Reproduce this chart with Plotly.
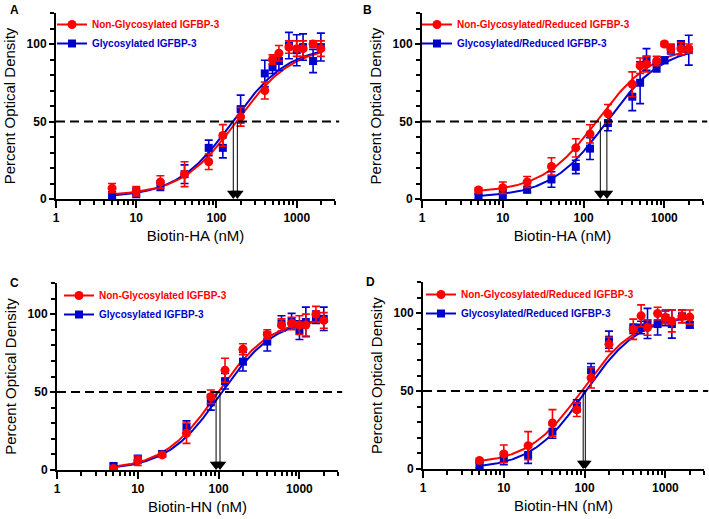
import numpy as np
import plotly.graph_objects as go

# ---------------- data ----------------
conc = [5, 10, 20, 40, 80, 120, 200, 400, 500, 600, 800, 1000, 1200, 1600, 2000]
conc_c = [5, 10, 20, 40, 80, 120, 200, 400, 600, 800, 1000, 1200, 1600, 2000]

a_red = [7, 5, 11, 16, 24, 41, 53, 70, 90, 94, 98, 97, 97, 100, 97]
a_red_err = [3, 3, 4, 8, 5, 7, 6, 5.5, 3, 5, 4, 5, 5, 2, 5]
a_blue = [2.5, 4, 8.5, 16, 33, 33, 58, 81, 85, 89, 99, 96, 98, 89, 98]
a_blue_err = [2, 3, 3, 6, 5, 6.5, 9, 8.5, 4, 6, 8.5, 10, 8.5, 7.5, 9]

b_red = [5.8, 7.3, 11, 21, 33, 42, 55, 74, 86, 87, 89, 100, 97, 97, 97]
b_red_err = [1.5, 3.7, 3.5, 5.6, 5.9, 5.9, 6, 8, 5, 5, 3, 1.5, 3, 4, 3]
b_blue = [1.5, 3.2, 6, 12.6, 20.7, 32.5, 49, 66, 75, 90, 85, 89.5, 96.5, 100, 96]
b_blue_err = [1.5, 3, 2, 5, 4.3, 7, 5, 9, 13.5, 7, 3, 2, 3, 2, 9.6]

c_red = [1, 6, 9.7, 23.6, 47, 64, 77.5, 87, 93, 94, 93, 93, 100, 96]
c_red_err = [1, 3, 1.5, 6.5, 4.3, 7.7, 3.5, 3, 4, 4, 6, 7, 5, 5]
c_blue = [2.6, 7, 10.3, 27.5, 43.4, 57, 69.5, 82.4, 94, 95.5, 89.7, 95, 98, 97]
c_blue_err = [1.5, 2.5, 1.5, 4, 5, 5, 6, 6, 5, 5, 6, 9.5, 4, 7.5]

d_red = [5.4, 9.7, 15, 29.5, 38, 58.5, 80, 89.7, 98.3, 90.8, 99.8, 97.2, 95, 97.8, 97.5]
d_red_err = [1.5, 5.7, 9, 8.6, 4.3, 6.5, 4.5, 6.5, 7, 5, 4, 4, 7, 4, 4.5]
d_blue = [2.4, 6.7, 9, 24, 40.6, 63.4, 83, 90, 90.8, 93.4, 93, 97, 93, 98, 92.5]
d_blue_err = [1.5, 4, 5.4, 4.3, 3.8, 4.3, 5.5, 3, 4, 9.7, 7, 5, 9, 4, 2]

# four-parameter logistic fit parameters [bottom, top, EC50, hill]
a_red_fit = [2, 99, 180, 1.25]
a_blue_fit = [1, 99, 160, 1.25]
b_red_fit = [4, 99, 152, 1.25]
b_blue_fit = [1, 99, 194, 1.25]
c_red_fit = [0, 98, 96, 1.3]
c_blue_fit = [0, 98, 107, 1.3]
d_red_fit = [3, 99, 94, 1.3]
d_blue_fit = [0, 99, 102, 1.3]

# half-maximal concentrations marked by arrows
a_arrows = [162, 182]
b_arrows = [161, 194]
c_arrows = [93, 104]
d_arrows = [96, 102]

names_plain = ["Non-Glycosylated IGFBP-3", "Glycosylated IGFBP-3"]
names_red = ["Non-Glycosylated/Reduced IGFBP-3", "Glycosylated/Reduced IGFBP-3"]
x_titles = ["Biotin-HA (nM)", "Biotin-HA (nM)", "Biotin-HN (nM)", "Biotin-HN (nM)"]
panel_letters = ["A", "B", "C", "D"]
y_ticks = [0, 50, 100]
x_ticks = [1, 10, 100, 1000]

# ---------------- layout geometry (pixels) ----------------
W, H = 709, 519
RED = "rgb(255,0,0)"
BLUE = "rgb(0,0,205)"
FONT = "Arial, 'Liberation Sans', sans-serif"

panels = [
    dict(x=conc, red=a_red, red_err=a_red_err, blue=a_blue, blue_err=a_blue_err,
         rfit=a_red_fit, bfit=a_blue_fit, arrows=a_arrows, names=names_plain,
         px=(56, 335), py=(13, 199), leg=(52, 10), lab=(8, 1)),
    dict(x=conc, red=b_red, red_err=b_red_err, blue=b_blue, blue_err=b_blue_err,
         rfit=b_red_fit, bfit=b_blue_fit, arrows=b_arrows, names=names_red,
         px=(422, 703), py=(13, 199), leg=(417, 10), lab=(361, 1)),
    dict(x=conc_c, red=c_red, red_err=c_red_err, blue=c_blue, blue_err=c_blue_err,
         rfit=c_red_fit, bfit=c_blue_fit, arrows=c_arrows, names=names_plain,
         px=(57, 338), py=(283, 470), leg=(59, 281), lab=(8, 274)),
    dict(x=conc, red=d_red, red_err=d_red_err, blue=d_blue, blue_err=d_blue_err,
         rfit=d_red_fit, bfit=d_blue_fit, arrows=d_arrows, names=names_red,
         px=(423, 704), py=(282, 469), leg=(421, 280), lab=(364, 273)),
]

fig = go.Figure()
annotations = []
shapes = []

def logistic(x, p):
    b, t, ec, h = p
    return b + (t - b) / (1 + (ec / x) ** h)

TRI = 11
for i, P in enumerate(panels):
    k = "" if i == 0 else str(i + 1)
    xa, ya = "x" + k, "y" + k
    leg = "legend" + k
    ppu = (P["py"][1] - P["py"][0]) / 120.0

    xf = np.logspace(np.log10(min(P["x"])), np.log10(max(P["x"])), 200)
    # fitted curves
    fig.add_trace(go.Scatter(x=xf, y=logistic(xf, P["bfit"]), mode="lines",
                             line=dict(color=BLUE, width=2), xaxis=xa, yaxis=ya,
                             showlegend=False, hoverinfo="skip"))
    fig.add_trace(go.Scatter(x=xf, y=logistic(xf, P["rfit"]), mode="lines",
                             line=dict(color=RED, width=2), xaxis=xa, yaxis=ya,
                             showlegend=False, hoverinfo="skip"))
    # data points
    fig.add_trace(go.Scatter(x=P["x"], y=P["blue"], mode="markers",
                             marker=dict(symbol="square", size=8, color=BLUE),
                             error_y=dict(type="data", array=P["blue_err"], color=BLUE,
                                          thickness=1.6, width=4),
                             xaxis=xa, yaxis=ya, showlegend=False))
    fig.add_trace(go.Scatter(x=P["x"], y=P["red"], mode="markers",
                             marker=dict(symbol="circle", size=9, color=RED),
                             error_y=dict(type="data", array=P["red_err"], color=RED,
                                          thickness=1.6, width=4),
                             xaxis=xa, yaxis=ya, showlegend=False))
    # arrows
    for a in P["arrows"]:
        fig.add_trace(go.Scatter(x=[a, a], y=[50, TRI / 2 / ppu], mode="lines",
                                 line=dict(color="black", width=1), xaxis=xa, yaxis=ya,
                                 showlegend=False, hoverinfo="skip"))
        fig.add_trace(go.Scatter(x=[a], y=[TRI / 2 / ppu], mode="markers",
                                 marker=dict(symbol="triangle-down", size=TRI, color="black"),
                                 xaxis=xa, yaxis=ya, showlegend=False, hoverinfo="skip"))
    # legend entries
    fig.add_trace(go.Scatter(x=[None], y=[None], mode="lines+markers",
                             name="<b><span style='color:%s'>%s</span></b>" % (RED, P["names"][0]),
                             line=dict(color=RED, width=2),
                             marker=dict(symbol="circle", size=9, color=RED),
                             xaxis=xa, yaxis=ya, legend=leg))
    fig.add_trace(go.Scatter(x=[None], y=[None], mode="lines+markers",
                             name="<b><span style='color:%s'>%s</span></b>" % (BLUE, P["names"][1]),
                             line=dict(color=BLUE, width=2),
                             marker=dict(symbol="square", size=8, color=BLUE),
                             xaxis=xa, yaxis=ya, legend=leg))

    xdom = [P["px"][0] / W, P["px"][1] / W]
    ydom = [1 - P["py"][1] / H, 1 - P["py"][0] / H]
    xaxis = dict(type="log", domain=xdom, range=[0, np.log10(3000)], anchor=ya,
                 automargin=False,
                 showline=True, linecolor="black", linewidth=2, showgrid=False,
                 zeroline=False, ticks="outside", ticklen=7, tickwidth=2, tickcolor="black",
                 tickvals=x_ticks, ticktext=[str(v) for v in x_ticks],
                 tickfont=dict(family=FONT, size=12, color="black", weight="bold"),
                 minor=dict(ticks="outside", ticklen=4, tickwidth=1.5, tickcolor="black",
                            dtick="D1", showgrid=False),
                 title=dict(text=x_titles[i], font=dict(family=FONT, size=15, color="black"),
                            standoff=6))
    yaxis = dict(domain=ydom, range=[0, 120], anchor=xa, automargin=False,
                 showline=True, linecolor="black", linewidth=2, showgrid=False,
                 zeroline=False, ticks="outside", ticklen=5, tickwidth=2, tickcolor="black",
                 tickvals=y_ticks,
                 tickfont=dict(family=FONT, size=12, color="black", weight="bold"),
                 minor=dict(ticks="outside", ticklen=4, tickwidth=1.5, tickcolor="black",
                            dtick=10, showgrid=False),
                 title=dict(text="Percent Optical Density",
                            font=dict(family=FONT, size=15, color="black"), standoff=7))
    fig.layout["xaxis" + k] = xaxis
    fig.layout["yaxis" + k] = yaxis
    fig.layout[leg] = dict(x=P["leg"][0] / W, y=1 - P["leg"][1] / H, xanchor="left",
                           yanchor="top", bgcolor="rgba(0,0,0,0)", borderwidth=0,
                           font=dict(family=FONT, size=10), tracegroupgap=0,
                           itemwidth=30)
    shapes.append(dict(type="line", xref=xa + " domain", yref=ya, x0=0, x1=1.015,
                       y0=50, y1=50, line=dict(color="black", width=2, dash="9px,5px")))
    annotations.append(dict(text="<b>%s</b>" % panel_letters[i], x=P["lab"][0] / W,
                            y=1 - P["lab"][1] / H, xref="paper", yref="paper",
                            xanchor="left", yanchor="top", showarrow=False,
                            font=dict(family=FONT, size=12, color="black")))

fig.update_layout(width=W, height=H, margin=dict(l=0, r=0, t=0, b=0, autoexpand=False),
                  paper_bgcolor="white", plot_bgcolor="white",
                  annotations=annotations, shapes=shapes)

fig.write_html("out.html", config={"displayModeBar": False},
               post_script="document.body.style.margin='0';document.body.style.padding='0';")
